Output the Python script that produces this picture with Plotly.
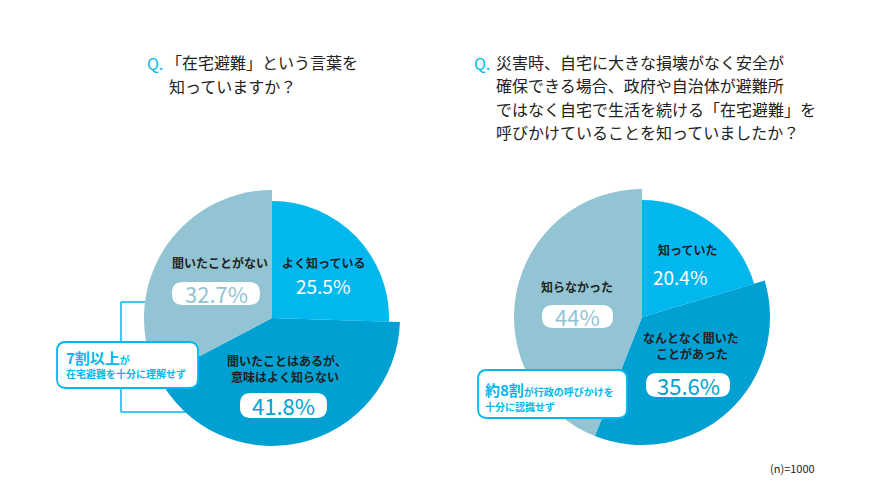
import plotly.graph_objects as go

W, H = 880, 495
OFF = 8  # page margin of the browser around the plot div

# left chart: 「在宅避難」という言葉を知っていますか？
left_labels = ["よく知っている", "聞いたことはあるが、意味はよく知らない", "聞いたことがない"]
left_values = [25.5, 41.8, 32.7]

# right chart: 在宅避難の呼びかけを知っていましたか？
right_labels = ["知っていた", "なんとなく聞いたことがあった", "知らなかった"]
right_values = [20.4, 35.6, 44.0]

CYAN = "#00b8ee"
DARK = "#00a0d3"
GRAY = "#93c4d4"
CLEAR = "rgba(0,0,0,0)"
FONT = "Noto Sans CJK JP"


def px(x, y):
    # screen pixel position -> paper coordinates
    return (x - OFF) / W, 1 - (y - OFF) / H


def domain(cx, cy, r):
    x0, y1 = px(cx - r, cy - r)
    x1, y0 = px(cx + r, cy + r)
    return dict(x=[x0, x1], y=[y0, y1])


def rounded_box(x0, y0, x1, y1, rad, line_color, width=1.5):
    def p(x, y):
        a, b = px(x, y)
        return f"{a:.5f},{b:.5f}"
    path = (f"M {p(x0 + rad, y0)} L {p(x1 - rad, y0)} Q {p(x1, y0)} {p(x1, y0 + rad)} "
            f"L {p(x1, y1 - rad)} Q {p(x1, y1)} {p(x1 - rad, y1)} "
            f"L {p(x0 + rad, y1)} Q {p(x0, y1)} {p(x0, y1 - rad)} "
            f"L {p(x0, y0 + rad)} Q {p(x0, y0)} {p(x0 + rad, y0)} Z")
    return dict(type="path", xref="paper", yref="paper", path=path,
                fillcolor="white", line=dict(color=line_color, width=width), layer="above")


fig = go.Figure()


def add_pie(values, labels, cx, cy):
    # outer pie for the two larger slices, inner pie for the first slice
    fig.add_trace(go.Pie(values=values, labels=labels, sort=False, direction="clockwise",
                         domain=domain(cx, cy, 128), textinfo="none", hoverinfo="label+value",
                         marker=dict(colors=[CLEAR, DARK, GRAY], line=dict(width=0)),
                         showlegend=False))
    fig.add_trace(go.Pie(values=values, labels=labels, sort=False, direction="clockwise",
                         domain=domain(cx, cy, 117), textinfo="none", hoverinfo="label+value",
                         marker=dict(colors=[CYAN, CLEAR, CLEAR], line=dict(width=0)),
                         showlegend=False))


add_pie(left_values, left_labels, 272, 318)
add_pie(right_values, right_labels, 642, 317)

annotations = []


def text(x, y, s, size=12, color="#222222", anchor="center", bold=False):
    a, b = px(x, y)
    if bold:
        s = f"<b>{s}</b>"
    annotations.append(dict(x=a, y=b, xref="paper", yref="paper", text=s, showarrow=False,
                            xanchor=anchor, yanchor="middle",
                            font=dict(family=FONT, size=size, color=color)))


# titles
text(145, 63, "Q.", 16, CYAN, "left")
text(164, 62, "「在宅避難」という言葉を", 16, "#222222", "left")
text(167, 86, "知っていますか？", 16, "#222222", "left")

text(472, 63, "Q.", 16, CYAN, "left")
right_title = ["災害時、自宅に大きな損壊がなく安全が",
               "確保できる場合、政府や自治体が避難所",
               "ではなく自宅で生活を続ける「在宅避難」を",
               "呼びかけていることを知っていましたか？"]
for i, line in enumerate(right_title):
    text(494, 62 + i * 23.3, line, 16, "#222222", "left")

shapes = []

# value boxes
for (x0, y0, x1, y1) in [(172, 282, 260, 305), (240, 393, 327, 418),
                         (542, 305, 613, 328), (646, 373, 730, 397)]:
    shapes.append(rounded_box(x0, y0, x1, y1, 11, "white", 0))

# left slice labels
text(323, 262, "よく知っている", 12, "#222222", bold=True)
text(323, 285, f"{left_values[0]}%", 19, "white")
text(220, 262, "聞いたことがない", 12, "#222222", bold=True)
text(216, 293, f"{left_values[2]}%", 22, GRAY)
text(287, 360, "聞いたことはあるが、", 12, "#222222", bold=True)
text(285, 376, "意味はよく知らない", 12, "#222222", bold=True)
text(283, 405, f"{left_values[1]}%", 22, DARK)

# right slice labels
text(687, 249, "知っていた", 12, "#222222", bold=True)
text(680, 276, f"{right_values[0]}%", 19, "white")
text(577, 286, "知らなかった", 12, "#222222", bold=True)
text(577, 316, f"{right_values[2]:g}%", 22, GRAY)
text(691, 337, "なんとなく聞いた", 12, "#222222", bold=True)
text(692, 353, "ことがあった", 12, "#222222", bold=True)
text(688, 385, f"{right_values[1]}%", 22, DARK)

# bracket on the left chart
for (x0, y0, x1, y1) in [(121, 302, 157, 302), (121, 302, 121, 412), (121, 412, 207, 412)]:
    a0, b0 = px(x0, y0)
    a1, b1 = px(x1, y1)
    shapes.append(dict(type="line", xref="paper", yref="paper", x0=a0, y0=b0, x1=a1, y1=b1,
                       line=dict(color=CYAN, width=1.5), layer="below"))

# callout boxes
shapes.append(rounded_box(57, 342, 198, 388, 9, CYAN, 1.8))
shapes.append(rounded_box(478, 370, 627, 418, 9, CYAN, 1.8))

text(64, 357, "<b>7割以上</b><span style='font-size:10px'><b>が</b></span>", 15, CYAN, "left")
text(64, 373, "在宅避難を十分に理解せず", 10, CYAN, "left", bold=True)
text(483, 389, "<b>約8割</b><span style='font-size:10px'><b>が行政の呼びかけを</b></span>", 15, CYAN, "left")
text(483, 406, "十分に認識せず", 10, CYAN, "left", bold=True)

text(792, 468, "(n)=1000", 11, "#222222")

fig.update_layout(
    width=W, height=H,
    margin=dict(l=0, r=0, t=0, b=0),
    paper_bgcolor="white",
    plot_bgcolor="white",
    shapes=shapes,
    annotations=annotations,
)

fig.write_html("out.html")
